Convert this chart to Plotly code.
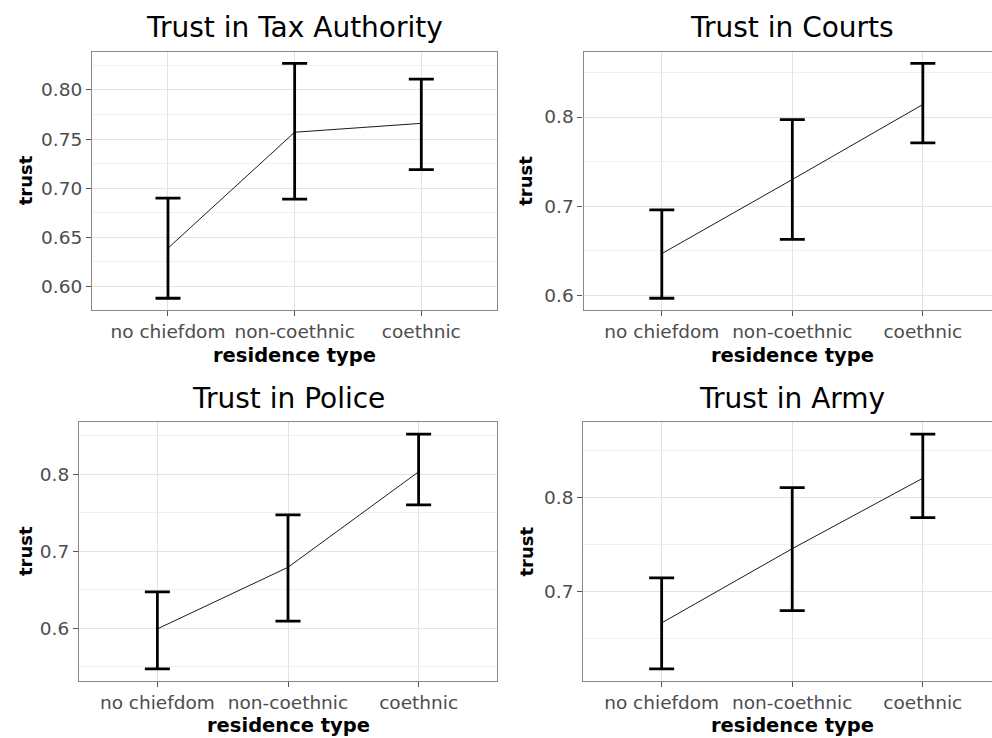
import plotly.graph_objects as go

# Residence categories shared by every panel
categories = ["no chiefdom", "non-coethnic", "coethnic"]

# Trust estimates with lower / upper confidence bounds
tax_mean = [0.639, 0.757, 0.766]
tax_low = [0.588, 0.689, 0.719]
tax_high = [0.690, 0.827, 0.811]

courts_mean = [0.647, 0.730, 0.814]
courts_low = [0.597, 0.663, 0.771]
courts_high = [0.696, 0.797, 0.860]

police_mean = [0.599, 0.679, 0.803]
police_low = [0.547, 0.609, 0.760]
police_high = [0.647, 0.747, 0.852]

army_mean = [0.667, 0.746, 0.821]
army_low = [0.618, 0.680, 0.779]
army_high = [0.715, 0.811, 0.868]

titles = ["Trust in Tax Authority", "Trust in Courts", "Trust in Police", "Trust in Army"]

W, H = 992, 738
FONT = "DejaVu Sans"


def px_x(x):
    return x / W


def px_y(y):
    return 1 - y / H


panels = [
    dict(title=titles[0], mean=tax_mean, low=tax_low, high=tax_high,
         box=(92, 497.3, 51.7, 310), xr=[0.4, 3.6], dtick=0.05, fmt=".2f"),
    dict(title=titles[1], mean=courts_mean, low=courts_low, high=courts_high,
         box=(583.5, 992, 51.7, 310), xr=[0.4, 3.53], dtick=0.1, fmt=".1f"),
    dict(title=titles[2], mean=police_mean, low=police_low, high=police_high,
         box=(79, 497, 422.3, 680.7), xr=[0.4, 3.6], dtick=0.1, fmt=".1f"),
    dict(title=titles[3], mean=army_mean, low=army_low, high=army_high,
         box=(583.3, 992, 422.3, 680.7), xr=[0.4, 3.53], dtick=0.1, fmt=".1f"),
]

fig = go.Figure()
annotations = []
xpos = [1, 2, 3]

for i, p in enumerate(panels):
    n = i + 1
    xa = "x" if n == 1 else f"x{n}"
    ya = "y" if n == 1 else f"y{n}"
    x0, x1, y0, y1 = p["box"]

    err_plus = [h - m for h, m in zip(p["high"], p["mean"])]
    err_minus = [m - l for m, l in zip(p["mean"], p["low"])]

    # connecting line through the estimates
    fig.add_trace(go.Scatter(
        x=xpos, y=p["mean"], mode="lines",
        line=dict(color="black", width=0.9),
        xaxis=xa, yaxis=ya, showlegend=False, hoverinfo="skip"))
    # confidence intervals
    fig.add_trace(go.Scatter(
        x=xpos, y=p["mean"], mode="markers",
        marker=dict(size=1, color="rgba(0,0,0,0)"),
        error_y=dict(type="data", array=err_plus, arrayminus=err_minus,
                     color="black", thickness=2.8, width=12.5),
        xaxis=xa, yaxis=ya, showlegend=False))

    lo = min(p["low"])
    hi = max(p["high"])
    pad = (hi - lo) * 0.05
    yr = [lo - pad, hi + pad]

    right_panel = x1 >= W - 1
    xaxis = dict(
        domain=[px_x(x0), px_x(x1)], range=p["xr"], anchor=ya,
        tickmode="array", tickvals=xpos, ticktext=categories,
        ticks="outside", ticklen=5, tickwidth=1, tickcolor="#555",
        tickfont=dict(family=FONT, size=18.5, color="#4d4d4d"),
        showgrid=True, gridcolor="#e3e3e3", gridwidth=1,
        showline=True, linecolor="#888", linewidth=1.2, mirror=True,
        zeroline=False, fixedrange=True,
    )
    yaxis = dict(
        domain=[px_y(y1), px_y(y0)], range=yr, anchor=xa,
        dtick=p["dtick"], tick0=0, tickformat=p["fmt"],
        ticks="outside", ticklen=5, tickwidth=1, tickcolor="#555",
        tickfont=dict(family=FONT, size=18.5, color="#4d4d4d"),
        showgrid=True, gridcolor="#e3e3e3", gridwidth=1,
        minor=dict(dtick=p["dtick"] / 2, tick0=0, showgrid=True,
                   gridcolor="#f0f0f0", gridwidth=1, ticks=""),
        showline=True, linecolor="#888", linewidth=1.2,
        mirror=not right_panel,
        zeroline=False, fixedrange=True,
    )
    fig.update_layout(**{("xaxis" if n == 1 else f"xaxis{n}"): xaxis,
                         ("yaxis" if n == 1 else f"yaxis{n}"): yaxis})

    # panel title, centred on the full panel width
    cx = x0 + (xpos[1] - p["xr"][0]) / (p["xr"][1] - p["xr"][0]) * (x1 - x0)
    annotations.append(dict(
        text=p["title"], x=px_x(cx), y=px_y(y0 - 24), xref="paper", yref="paper",
        xanchor="center", yanchor="middle", showarrow=False,
        font=dict(family=FONT, size=28, color="black")))
    # x axis title
    annotations.append(dict(
        text="residence type", x=px_x(cx), y=px_y(y1 + 45), xref="paper", yref="paper",
        xanchor="center", yanchor="middle", showarrow=False,
        font=dict(family=FONT, size=19.5, color="black", weight="bold")))
    # y axis title
    ytx = 25.5 if x0 < 300 else 496 + 30
    annotations.append(dict(
        text="trust", x=px_x(ytx), y=px_y((y0 + y1) / 2), xref="paper", yref="paper",
        xanchor="center", yanchor="middle", textangle=-90, showarrow=False,
        font=dict(family=FONT, size=18, color="black", weight="bold")))

fig.update_layout(
    width=W, height=H, margin=dict(l=0, r=0, t=0, b=0),
    paper_bgcolor="white", plot_bgcolor="white",
    annotations=annotations, showlegend=False,
)

fig.write_html("out.html")
